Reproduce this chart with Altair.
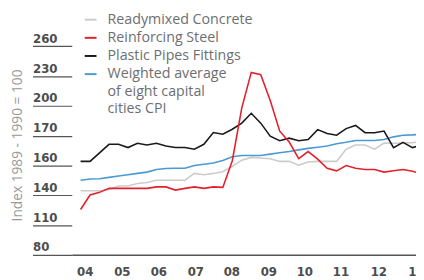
import json
import altair as alt
import pandas as pd

# quarterly observations, 2004 Q1 onwards (index of quarter)
QUARTERS = list(range(37))

SERIES = [
    "Readymixed Concrete",
    "Reinforcing Steel",
    "Plastic Pipes Fittings",
    "Weighted average of eight capital cities CPI",
]
LEGEND_LINES = ["Weighted average", "of eight capital", "cities CPI"]
COLORS = ["#cccccc", "#e3212b", "#1a1a1a", "#4a9ad4"]

READYMIX = [144.5, 144.5, 144.5, 145.5, 149.4, 149.4, 151.8, 152.8, 155.1, 155.1,
            155.1, 155.1, 162.0, 160.7, 162.0, 163.7, 169.2, 175.3, 178.1, 177.5,
            176.8, 174.1, 174.1, 170.2, 173.5, 174.1, 174.1, 174.1, 186.4, 190.6,
            190.6, 186.4, 192.6, 192.3, 192.6, 193.0, 194.0]
STEEL = [125.7, 140.2, 142.9, 146.9, 146.9, 146.9, 146.9, 146.9, 148.4, 148.4,
         145.2, 146.9, 148.4, 146.9, 148.4, 147.9, 174.8, 228.0, 263.7, 261.4,
         235.5, 204.5, 193.6, 176.8, 184.0, 176.3, 167.2, 164.6, 169.9, 167.2,
         165.9, 165.9, 163.3, 164.6, 165.9, 164.2, 161.3]
PIPES = [174.1, 174.1, 182.7, 191.3, 191.3, 188.0, 192.3, 190.6, 192.3, 189.6,
         188.0, 188.0, 186.4, 191.3, 203.2, 201.5, 206.5, 212.6, 222.5, 212.6,
         199.5, 194.9, 197.5, 194.9, 196.2, 206.1, 202.2, 200.5, 207.1, 210.3,
         203.0, 203.0, 204.6, 188.0, 193.3, 188.0, 190.6]
CPI = [155.1, 156.3, 156.7, 158.0, 159.3, 160.7, 162.0, 163.3, 165.9, 166.9,
       167.2, 167.2, 169.9, 171.2, 172.5, 175.1, 178.8, 180.0, 180.0, 180.0,
       181.4, 182.7, 184.0, 185.7, 187.2, 188.3, 189.6, 191.9, 193.3, 195.2,
       195.2, 195.2, 196.2, 198.8, 200.5, 200.8, 201.4]

Y_TICKS = [80, 110, 140, 170, 200, 230, 260, 290]
Y_LABELS = ["80", "110", "140", "160", "170", "200", "230", "260"]
X_TICKS = [0.43, 4.35, 8.2, 12.1, 15.9, 19.8, 23.6, 27.4, 31.4, 35.35]
X_LABELS = ["04", "05", "06", "07", "08", "09", "10", "11", "12", "13"]

values_by_series = [READYMIX, STEEL, PIPES, CPI]
draw_order = [0, 3, 2, 1]
rows = []
for k in draw_order:
    for q, v in zip(QUARTERS, values_by_series[k]):
        rows.append({"q": q, "value": v, "series": SERIES[k]})
df = pd.DataFrame(rows)

legend_expr = (f"datum.label == {json.dumps(SERIES[3])} ? "
               f"{json.dumps(LEGEND_LINES)} : datum.label")
y_label_expr = f"{json.dumps(Y_LABELS)}[indexof({json.dumps(Y_TICKS)}, datum.value)]"
x_label_expr = f"{json.dumps(X_LABELS)}[indexof({json.dumps(X_TICKS)}, datum.value)]"

chart = alt.Chart(df).mark_line(strokeWidth=1.6, clip=True).encode(
    x=alt.X(
        "q:Q",
        scale=alt.Scale(domain=[-0.93, 35.37], nice=False, zero=False),
        axis=alt.Axis(
            values=X_TICKS, labelExpr=x_label_expr, title=None, grid=False,
            ticks=False, domainColor="#555555", domainWidth=1.5,
            labelFont="DejaVu Sans", labelFontWeight="bold", labelFontSize=12,
            labelColor="#4d4d4d", labelPadding=12, labelFlush=False,
            labelBaseline="top",
        ),
    ),
    y=alt.Y(
        "value:Q",
        scale=alt.Scale(domain=[80, 320], nice=False, zero=False),
        axis=alt.Axis(
            values=Y_TICKS, labelExpr=y_label_expr,
            title="Index 1989 - 1990 = 100", grid=False, domain=False,
            tickSize=40, tickColor="#555555", tickWidth=1.2,
            labelAlign="left", labelPadding=0, labelBaseline="alphabetic",
            labelOffset=-4, labelFont="DejaVu Sans", labelFontWeight="bold",
            labelFontSize=12, labelColor="#4d4d4d",
            titleX=-51, titleY=131, titleFont="Open Sans",
            titleFontWeight="normal", titleFontSize=14, titleColor="#999999",
            titleBaseline="alphabetic",
        ),
    ),
    color=alt.Color(
        "series:N",
        scale=alt.Scale(domain=SERIES, range=COLORS),
        legend=alt.Legend(
            title=None, orient="none", legendX=12, legendY=-4,
            symbolType="stroke", symbolSize=144, symbolStrokeWidth=2,
            labelFont="Open Sans", labelFontSize=14.5, labelColor="#6d6e71",
            labelOffset=10, labelLimit=300, rowPadding=3.5, labelExpr=legend_expr,
        ),
    ),
).properties(
    width=351,
    height=243,
    autosize=alt.AutoSizeParams(type="none"),
    padding={"left": 65, "top": 6, "right": 0, "bottom": 23},
).configure(
    style={"guide-label": {"lineHeight": 18}}
).configure_view(stroke=None)

chart.save("out.html", embed_options={"renderer": "svg", "actions": False})
